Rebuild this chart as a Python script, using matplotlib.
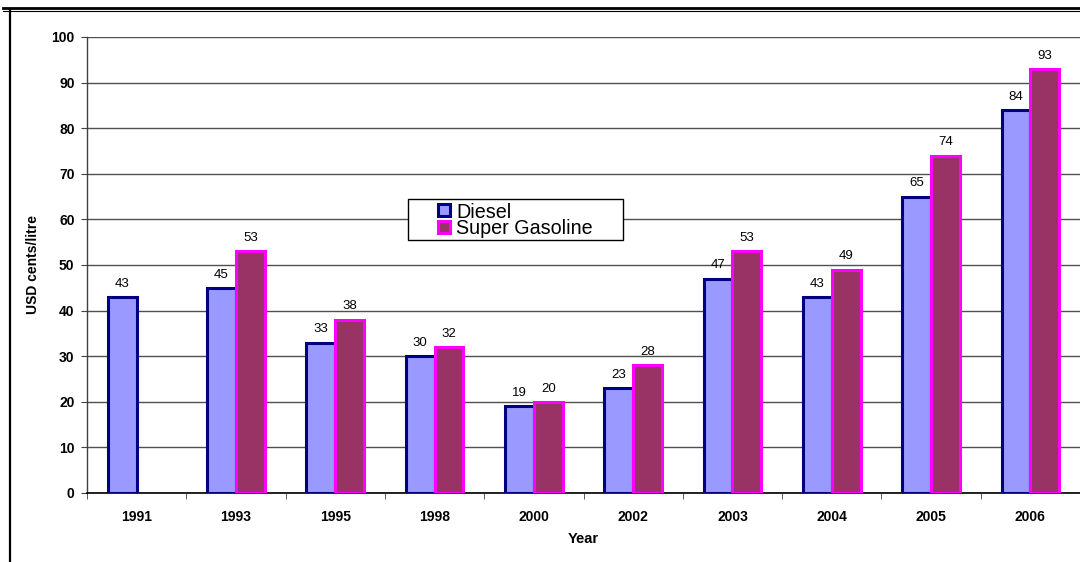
import numpy as np
import matplotlib
matplotlib.use('Agg')
from matplotlib import pyplot as plt
from matplotlib.lines import Line2D
from matplotlib.patches import Rectangle

plt.rcParams['font.family'] = ['Liberation Sans', 'DejaVu Sans']

years = ['1991', '1993', '1995', '1998', '2000', '2002', '2003', '2004', '2005', '2006']
diesel = [43, 45, 33, 30, 19, 23, 47, 43, 65, 84]
gasoline = [None, 53, 38, 32, 20, 28, 53, 49, 74, 93]
names = ['Diesel', 'Super Gasoline']
fills = ['#9999ff', '#993366']
edges = ['#000080', '#ff00ff']

W, H = 1080, 562
fig = plt.figure(figsize=(W / 100, H / 100), dpi=100)
ax = fig.add_axes([87 / W, 69 / H, 993 / W, 456 / H])

# pixel -> figure fraction (origin top-left)
def fx(px):
    return px / W

def fy(py):
    return 1 - py / H

x = np.arange(len(years))
w = 0.29
lw = 2.2

for i, v in enumerate(diesel):
    ax.bar(x[i] - w / 2, v, w, color=fills[0], edgecolor=edges[0], linewidth=lw, zorder=3)
    ax.text(x[i] - w / 2, v + 1.6, str(v), ha='center', va='bottom', fontsize=9.5, zorder=4)
for i, v in enumerate(gasoline):
    if v is None:
        continue
    ax.bar(x[i] + w / 2, v, w, color=fills[1], edgecolor=edges[1], linewidth=lw, zorder=3)
    ax.text(x[i] + w / 2, v + 1.6, str(v), ha='center', va='bottom', fontsize=9.5, zorder=4)

ax.set_xlim(-0.5, len(years) - 0.5)
ax.set_ylim(0, 100)
ax.set_yticks(range(0, 101, 10))
ax.set_yticklabels([str(t) for t in range(0, 101, 10)], fontsize=10, fontweight='bold')
ax.set_xticks(x)
ax.set_xticklabels(years, fontsize=10, fontweight='bold')
ax.set_xticks(np.arange(-0.5, len(years), 1), minor=True)
ax.tick_params(axis='x', which='major', length=0, pad=12)
ax.tick_params(axis='x', which='minor', length=4, color='#404040', direction='out')
ax.tick_params(axis='y', length=4, color='#404040', direction='out', pad=5)

ax.yaxis.grid(True, color='#505050', linewidth=1.0, zorder=0)
ax.set_axisbelow(True)
for s in ['top', 'right']:
    ax.spines[s].set_visible(False)
ax.spines['left'].set_color('#404040')
ax.spines['left'].set_linewidth(1.0)
ax.spines['bottom'].set_color('black')
ax.spines['bottom'].set_linewidth(1.2)

ax.set_ylabel('USD cents/litre', fontsize=10, fontweight='bold', labelpad=8)
ax.set_xlabel('Year', fontsize=10.5, fontweight='bold', labelpad=6)

# legend box drawn by hand
fig.add_artist(Rectangle((fx(408), fy(240)), fx(623) - fx(408), fy(199) - fy(240),
                         transform=fig.transFigure, facecolor='white',
                         edgecolor='black', linewidth=1.0, zorder=5))
for k, (name, fc, ec) in enumerate(zip(names, fills, edges)):
    top = 204 + k * 17
    fig.add_artist(Rectangle((fx(438), fy(top + 12)), fx(12), 12 / H,
                             transform=fig.transFigure, facecolor=fc,
                             edgecolor=ec, linewidth=2.2, zorder=6))
    fig.text(fx(456), fy(top + 13.5), name, fontsize=14.2, ha='left',
             va='baseline', zorder=6)

# outer frame: double line on top, single line on the left
fig.add_artist(Line2D([fx(3), 1], [fy(8), fy(8)], color='black', linewidth=2.0))
fig.add_artist(Line2D([fx(3), 1], [fy(10.5), fy(10.5)], color='black', linewidth=0.8))
fig.add_artist(Line2D([fx(10), fx(10)], [0, fy(9)], color='black', linewidth=1.6))

fig.savefig('out.png', dpi=100)
